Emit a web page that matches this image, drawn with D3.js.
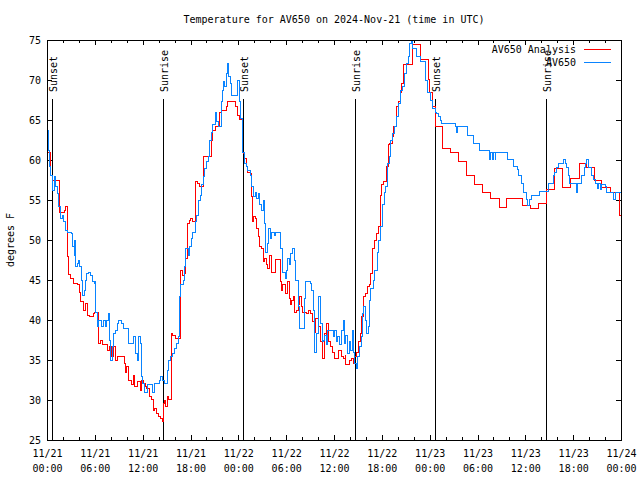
<!DOCTYPE html>
<html><head><meta charset="utf-8">
<script src="https://cdn.jsdelivr.net/npm/d3@7"></script>
<style>
body{margin:0;background:#fff;}
text{font-family:"DejaVu Sans Mono","Liberation Mono",monospace;font-size:10px;fill:#000;}
</style></head>
<body>
<svg id="c" width="640" height="480"></svg>
<script>
// ---- data (hours after 2024-11-21 00:00 UTC, degrees F) ----
const startUTC = Date.UTC(2024, 10, 21, 0, 0);
const analysisHours = [0,0.5,0.67,1.55,2.17,2.34,2.55,2.68,2.9,3.3,3.8,4.05,4.2,4.6,4.85,5.06,5.27,5.8,6.0,6.5,6.77,7.0,7.6,7.9,8.1,8.4,8.6,8.9,9.7,9.8,10.0,10.2,10.6,10.8,11.0,11.4,11.7,11.9,12.1,12.3,12.5,12.9,13.1,13.3,13.5,13.75,13.95,14.25,14.5,14.6,14.8,14.9,15.1,15.3,15.6,15.8,16.1,16.7,17.0,17.3,17.4,17.6,17.85,18.0,18.3,18.6,18.9,19.1,19.6,20.6,20.8,21.1,21.7,21.9,22.2,22.5,22.7,23.7,23.9,24.1,24.55,24.7,24.8,25.0,25.2,25.5,25.6,25.7,25.8,25.9,26.1,26.3,26.5,26.6,26.9,27.1,27.3,27.5,27.7,27.9,28.2,28.7,29.3,29.4,29.6,29.9,30.2,30.4,30.5,30.7,30.9,31.1,31.3,31.5,31.7,31.9,32.1,32.6,32.8,33.1,33.3,33.5,33.7,34.0,34.3,34.5,34.6,34.8,35.0,35.1,35.3,35.6,35.8,36.0,36.1,36.6,36.9,37.2,37.4,37.5,38.0,38.2,38.4,38.6,38.8,39.1,39.3,39.5,39.7,40.0,40.2,40.4,40.6,40.8,41.1,41.3,41.6,41.8,42.0,42.2,42.6,42.8,43.0,43.3,43.5,43.8,44.1,44.3,44.5,44.7,45.8,46.8,47.9,48.0,48.4,48.7,49.6,50.6,51.6,52.6,53.6,54.6,55.6,56.7,57.6,59.6,60.6,61.6,62.6,63.6,64.7,65.7,66.8,67.7,68.7,69.6,70.7,71.8,72.0];
const analysisTemps = [61.0,58.1,57.5,53.4,53.75,54.2,47.9,45.75,45.2,44.6,44.4,43.4,42.3,41.25,42.1,40.6,40.4,40.8,41.0,37.1,37.5,36.9,36.2,36.7,35.4,36.7,35.0,35.4,34.6,33.5,34.2,32.5,31.9,33.1,31.7,32.3,31.25,32.5,32.1,31.7,31.5,30.4,30.1,28.75,29.0,28.3,27.9,27.7,27.3,29.6,30.0,29.2,30.4,30.1,38.3,38.1,37.7,46.25,45.6,45.8,47.7,52.1,52.5,52.7,52.3,57.3,57.1,56.7,60.4,62.5,63.75,64.2,66.0,66.2,66.25,66.75,67.3,66.7,65.6,65.1,61.0,60.8,60.2,59.2,58.5,58.3,57.7,55.4,52.3,52.9,52.7,51.5,50.4,49.2,49.0,47.3,47.7,46.9,46.5,48.1,46.0,47.6,44.8,43.75,44.4,43.3,44.8,42.7,41.9,42.5,42.9,41.0,41.25,41.9,42.9,41.7,41.0,40.8,41.25,40.8,39.8,38.5,40.2,39.2,37.3,37.1,35.2,38.3,37.5,39.6,37.3,36.7,36.0,35.6,35.2,36.25,35.4,35.2,35.6,34.4,35.0,35.2,34.6,35.4,36.0,37.3,38.3,40.4,42.9,43.3,44.2,44.4,45.8,49.0,50.0,50.8,51.7,55.6,56.9,57.3,59.2,61.9,62.1,62.9,64.2,66.7,67.3,68.5,69.6,72.0,74.5,72.6,70.1,68.5,66.7,64.25,61.4,61.0,59.8,58.1,57.0,56.0,55.2,54.1,55.2,54.3,53.9,54.6,56.3,58.9,56.6,57.7,59.6,59.1,57.4,56.6,56.0,53.1,53.1];

const obsHours = [0,0.08,0.25,0.33,0.5,0.67,0.9,1.0,1.1,1.3,1.5,1.7,1.9,2.1,2.34,2.6,3.1,3.2,3.4,3.5,3.6,3.8,3.9,4.1,4.3,4.4,4.7,4.85,5.0,5.2,5.5,5.7,5.9,6.0,6.1,6.3,6.5,6.8,7.1,7.3,7.5,7.7,7.9,8.0,8.2,8.4,8.6,8.9,9.0,9.3,9.6,10.2,10.9,11.1,11.3,11.5,11.7,11.8,12.0,12.2,12.6,13.25,13.5,14.1,14.25,14.5,14.7,15.1,15.25,15.5,15.8,16.0,16.2,16.5,16.6,16.8,17.1,17.3,17.4,17.7,17.9,18.1,18.3,18.6,18.8,19.0,19.2,19.4,19.6,19.8,20.0,20.2,20.4,20.6,20.8,21.1,21.3,21.5,21.9,22.0,22.2,22.3,22.5,22.7,22.8,23.0,23.2,23.9,24.1,24.3,24.55,24.8,25.0,25.2,25.5,25.7,25.9,26.1,26.3,26.5,26.7,26.9,27.1,27.3,27.4,27.6,27.8,28.0,28.2,28.5,28.7,29.3,29.5,29.6,29.9,30.0,30.2,30.4,30.6,30.8,31.0,31.2,31.5,31.7,32.3,32.4,33.0,33.2,33.4,33.6,33.8,34.0,34.3,34.5,34.7,34.8,35.0,35.2,35.6,35.9,36.1,36.3,36.5,36.7,36.9,37.2,37.3,37.5,37.7,38.0,38.1,38.3,38.4,38.6,38.8,39.0,39.2,39.4,39.6,39.7,39.9,40.1,40.3,40.5,40.6,40.9,41.1,41.4,41.6,41.8,42.1,42.3,42.5,42.7,42.9,43.1,43.4,43.6,43.8,44.1,44.4,44.6,44.9,45.1,45.3,45.5,45.7,45.9,46.3,46.9,47.5,47.7,48.1,48.4,48.7,48.9,49.1,49.3,49.5,51.3,51.4,51.5,52.8,53.5,54.3,55.5,55.6,55.9,56.0,56.2,56.3,57.8,58.5,59.0,59.2,59.5,59.8,60.1,60.3,60.5,60.8,61.8,62.9,63.5,63.7,63.9,64.1,64.8,65.0,65.2,65.4,65.6,66.4,66.6,67.0,67.4,67.6,67.7,67.9,68.3,68.5,68.8,69.0,69.2,69.4,69.6,70.0,70.2,71.0,71.3,72.0];
const obsTemps = [65.0,63.75,61.25,59.2,58.1,56.25,57.1,57.9,56.7,55.8,54.2,52.7,53.1,52.3,51.25,51.0,50.8,49.2,48.1,50.0,46.7,47.1,47.5,46.7,45.0,43.1,43.75,45.0,45.8,46.0,45.6,44.8,44.6,44.8,41.0,39.2,40.0,39.2,40.0,39.2,40.0,40.8,37.5,35.0,36.7,38.3,38.75,39.6,40.0,39.6,39.0,37.1,37.9,35.8,35.0,37.9,37.1,32.9,32.1,31.0,31.9,31.0,32.1,32.5,32.9,32.5,32.1,33.75,35.0,35.4,35.8,36.5,37.1,37.9,42.9,44.4,45.0,46.7,49.0,48.1,49.2,50.2,51.0,52.3,53.1,55.0,55.6,56.9,57.9,59.0,59.8,60.4,62.5,63.5,64.4,66.0,64.8,64.2,67.3,68.75,69.8,69.2,70.8,72.1,70.4,69.6,68.1,70.0,67.3,65.2,61.0,59.6,59.2,58.75,58.1,56.7,55.4,56.0,55.2,55.8,54.4,53.75,55.0,52.1,48.5,49.6,51.5,50.2,51.0,50.6,51.0,48.9,47.5,46.0,45.2,46.25,47.7,46.9,48.3,48.9,47.5,45.0,41.7,38.9,42.7,44.8,44.6,43.75,41.25,36.0,38.3,42.9,39.6,37.3,37.5,38.1,36.9,38.75,38.75,37.9,38.75,37.3,37.9,36.9,38.75,40.0,37.1,38.1,35.8,37.3,36.25,38.75,36.0,34.6,34.0,35.4,36.7,37.9,40.8,41.7,40.0,38.3,39.2,42.5,44.0,45.0,46.25,48.5,50.0,51.7,54.4,56.0,56.7,59.6,60.4,62.5,63.3,64.2,65.4,67.1,68.75,69.2,70.8,72.1,72.9,74.6,75.0,74.0,73.0,72.3,70.0,68.5,67.5,66.5,66.0,65.8,65.4,65.0,64.6,64.2,63.4,64.2,63.1,62.1,61.2,60.1,61.0,60.1,61.0,60.1,61.0,60.1,59.2,58.8,58.1,57.1,56.0,55.1,54.3,55.1,55.6,56.1,57.1,58.1,58.5,59.1,59.6,60.1,59.6,59.1,58.1,57.1,56.0,57.1,58.1,59.1,59.6,60.1,59.1,58.1,57.6,57.1,56.5,57.1,56.3,57.0,56.7,56.0,55.1,56.0,55.1,55.1];

const sunHours  = [0.58, 14.58, 24.6, 38.63, 48.65, 62.65];
const sunLabels = ["Sunset", "Sunrise", "Sunset", "Sunrise", "Sunset", "Sunrise"];
const yTickValues = [25, 30, 35, 40, 45, 50, 55, 60, 65, 70, 75];
const xMajorHours = [0, 6, 12, 18, 24, 30, 36, 42, 48, 54, 60, 66, 72];
const seriesNames = ["AV650 Analysis", "AV650"];
const seriesColors = ["#ff0000", "#0a84ff"];
const titleText = "Temperature for AV650 on 2024-Nov-21 (time in UTC)";
const yLabelText = "degrees F";

// ---- drawing ----
const toDate = h => new Date(startUTC + h * 3600e3);
const L = 47, R = 621, T = 40, B = 440;
const svg = d3.select("#c");
const x = d3.scaleUtc().domain([toDate(0), toDate(72)]).range([L, R]);
const y = d3.scaleLinear().domain([25, 75]).range([B, T]);

const majorDates = xMajorHours.map(toDate);
const minorDates = d3.range(0, 73, 2).filter(h => h % 6 !== 0).map(toDate);

function styleAxis(g){ g.select(".domain").remove(); g.selectAll("line").attr("stroke","#000").attr("shape-rendering","crispEdges"); }

// bottom major with 2-line labels
const fmtD = d3.utcFormat("%m/%d"), fmtT = d3.utcFormat("%H:%M");
const gxb = svg.append("g").attr("transform",`translate(0,${B})`)
  .call(d3.axisBottom(x).tickValues(majorDates).tickSizeInner(-5).tickSizeOuter(0).tickPadding(0).tickFormat(""));
styleAxis(gxb);
gxb.selectAll(".tick text").each(function(d){
  const t = d3.select(this).attr("y", null).attr("dy", null).attr("fill","#000");
  t.append("tspan").attr("x",0).attr("y",17).text(fmtD(d));
  t.append("tspan").attr("x",0).attr("y",32).text(fmtT(d));
});
gxb.attr("font-family",null).attr("font-size",null);
svg.append("g").attr("transform",`translate(0,${B})`)
  .call(d3.axisBottom(x).tickValues(minorDates).tickSize(-3).tickFormat("")).call(styleAxis);
// top mirror
svg.append("g").attr("transform",`translate(0,${T})`)
  .call(d3.axisTop(x).tickValues(majorDates).tickSize(-5).tickFormat("")).call(styleAxis);
svg.append("g").attr("transform",`translate(0,${T})`)
  .call(d3.axisTop(x).tickValues(minorDates).tickSize(-3).tickFormat("")).call(styleAxis);
// left
const gyl = svg.append("g").attr("transform",`translate(${L},0)`)
  .call(d3.axisLeft(y).tickValues(yTickValues).tickSizeInner(-5).tickSizeOuter(0).tickPadding(0).tickFormat(d3.format("d")));
styleAxis(gyl);
gyl.attr("font-family",null).attr("font-size",null);
gyl.selectAll(".tick text").attr("x",-6).attr("dy","0.35em").attr("fill","#000");
// right mirror
svg.append("g").attr("transform",`translate(${R},0)`)
  .call(d3.axisRight(y).tickValues(yTickValues).tickSize(-5).tickFormat("")).call(styleAxis);

// sun event lines and labels
sunHours.forEach((h,i)=>{
  const sx = Math.round(x(toDate(h))) + 0.5;
  svg.append("line").attr("x1",sx).attr("x2",sx).attr("y1",99).attr("y2",B)
    .attr("stroke","#000").attr("stroke-width",1).attr("shape-rendering","crispEdges");
  svg.append("text").attr("transform",`translate(${sx+4},92) rotate(-90)`).text(sunLabels[i]);
});

// series
const line = d3.line().x(d=>x(toDate(d[0]))).y(d=>y(d[1])).curve(d3.curveStepAfter);
const plotG = svg.append("g");
[[analysisHours, analysisTemps],[obsHours, obsTemps]].forEach((s,i)=>{
  const pts = s[0].map((h,j)=>[h, s[1][j]]);
  plotG.append("path").datum(pts).attr("d", line).attr("fill","none")
    .attr("stroke", seriesColors[i]).attr("stroke-width",1).attr("shape-rendering","crispEdges");
});

// frame
svg.append("rect").attr("x",L+0.5).attr("y",T+0.5).attr("width",R-L).attr("height",B-T)
  .attr("fill","none").attr("stroke","#000").attr("shape-rendering","crispEdges");

// legend
seriesNames.forEach((n,i)=>{
  const ly = 49 + i*13;
  svg.append("text").attr("x",576).attr("y",ly+4).attr("text-anchor","end").text(n);
  svg.append("line").attr("x1",584).attr("x2",611).attr("y1",ly+0.5).attr("y2",ly+0.5)
    .attr("stroke",seriesColors[i]).attr("shape-rendering","crispEdges");
});

// title and y label
svg.append("text").attr("x",334).attr("y",23).attr("text-anchor","middle").text(titleText);
svg.append("text").attr("transform","translate(14,240) rotate(-90)").attr("text-anchor","middle").text(yLabelText);
</script>
</body></html>
